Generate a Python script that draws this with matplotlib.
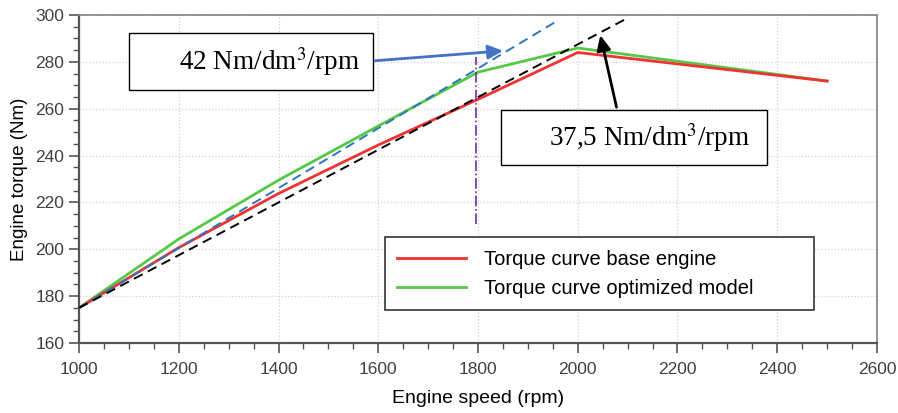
import matplotlib.pyplot as plt
from matplotlib.patches import Rectangle
from matplotlib.ticker import MultipleLocator

plt.rcParams['font.family'] = ['Liberation Sans', 'DejaVu Sans']

# data
speed = [1000, 1200, 1400, 1600, 1800, 2000, 2500]
torque_base = [175, 200.7, 223.8, 244.5, 264, 284, 271.8]
torque_opt = [175, 204.4, 229.5, 252.6, 275.6, 285.9, 271.8]

# reference slope lines
blue_x = [1000, 1955]
blue_y = [175, 297]
black_x = [1000, 2100]
black_y = [175, 298.7]

# vertical dash-dot marker
marker_x = 1795
marker_y = [211, 282]

fig = plt.figure(figsize=(8.98, 4.13), dpi=100)
ax = fig.add_axes([0.088, 0.1695, 0.8886, 0.7942])

ax.plot(speed, torque_base, color='#F03232', lw=2.0, label='Torque curve base engine', zorder=4)
ax.plot(speed, torque_opt, color='#55C845', lw=2.0, label='Torque curve optimized model', zorder=3)
ax.plot(blue_x, blue_y, color='#2E75C0', lw=1.4, ls=(0, (5, 3)), zorder=5)
ax.plot(black_x, black_y, color='black', lw=1.4, ls=(0, (5, 3)), zorder=5)
ax.plot([marker_x, marker_x], marker_y, color='#7030A0', lw=1.2, ls='-.', zorder=5)

ax.set_xlim(1000, 2600)
ax.set_ylim(160, 300)
ax.xaxis.set_major_locator(MultipleLocator(200))
ax.xaxis.set_minor_locator(MultipleLocator(50))
ax.yaxis.set_major_locator(MultipleLocator(20))
ax.yaxis.set_minor_locator(MultipleLocator(5))
ax.grid(True, which='major', color='#d2d2d2', ls=':', lw=0.9)
ax.tick_params(which='major', length=7, width=1.2, color='#555555', labelsize=12.5, labelcolor='#404040')
ax.tick_params(axis='x', which='major', pad=7)
ax.tick_params(which='minor', length=4, width=1.0, color='#555555')

for s in ['left', 'bottom']:
    ax.spines[s].set_color('#555555')
    ax.spines[s].set_linewidth(1.6)
for s in ['top', 'right']:
    ax.spines[s].set_color('#8a8a8a')
    ax.spines[s].set_linewidth(1.3)

ax.set_xlabel('Engine speed (rpm)', fontsize=14, labelpad=9)
ax.set_ylabel('Engine torque (Nm)', fontsize=13.5, labelpad=5)

leg = ax.legend(loc='lower left', bbox_to_anchor=(0.383, 0.1, 0.538, 0.216), mode='expand',
                borderaxespad=0, fontsize=14.5, handlelength=3.4, handletextpad=0.9,
                fancybox=False, framealpha=1, edgecolor='#333333',
                borderpad=0.62, labelspacing=0.5)
leg.get_frame().set_linewidth(1.2)

# annotation boxes
ax.add_patch(Rectangle((1100, 268), 489, 24.3, facecolor='white', edgecolor='black', lw=1.0, zorder=6))
ax.text(1382, 280, '42 Nm/dm$^3$/rpm', fontsize=19.5, family='Liberation Serif',
        ha='center', va='center', zorder=7, math_fontfamily='stix')
ax.annotate('', xy=(1856, 284.8), xytext=(1589, 280.4),
            arrowprops=dict(arrowstyle='-|>,head_length=0.9,head_width=0.42', color='#4472C4', lw=2), zorder=6)

ax.add_patch(Rectangle((1846, 236), 533, 23.5, facecolor='white', edgecolor='black', lw=1.0, zorder=6))
ax.text(2143, 247.5, '37,5 Nm/dm$^3$/rpm', fontsize=19.5, family='Liberation Serif',
        ha='center', va='center', zorder=7, math_fontfamily='stix')
ax.annotate('', xy=(2044, 292.5), xytext=(2079, 259.5),
            arrowprops=dict(arrowstyle='-|>,head_length=0.9,head_width=0.42', color='black', lw=2), zorder=6)

fig.savefig('out.png', dpi=100)
